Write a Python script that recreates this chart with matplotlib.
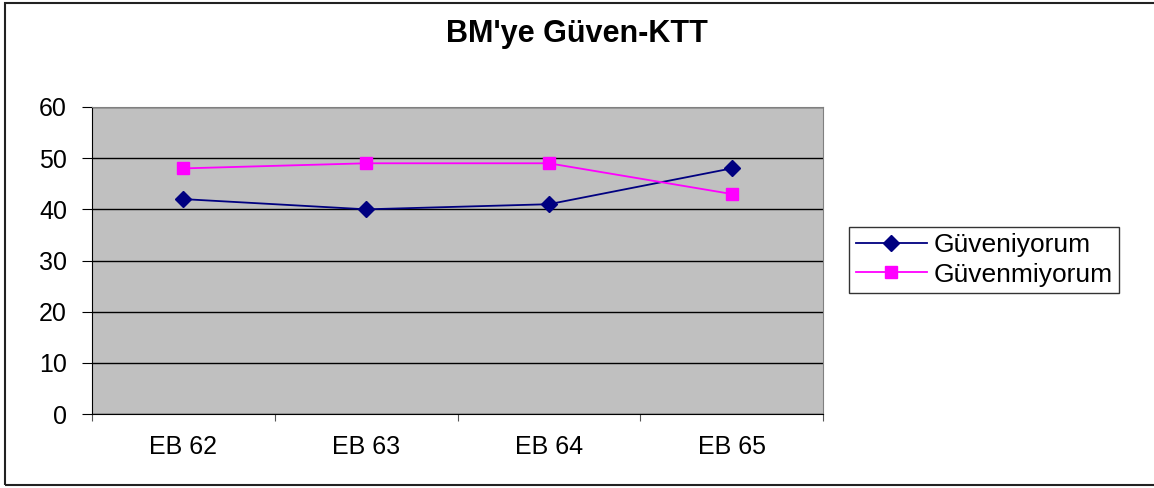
import matplotlib.pyplot as plt
from matplotlib.patches import Rectangle

# data
categories = ['EB 62', 'EB 63', 'EB 64', 'EB 65']
guveniyorum = [42, 40, 41, 48]
guvenmiyorum = [48, 49, 49, 43]
yticks = [0, 10, 20, 30, 40, 50, 60]

plt.rcParams['font.family'] = ['Liberation Sans', 'DejaVu Sans']

W, H = 1154, 488
fig = plt.figure(figsize=(W / 100, H / 100), dpi=100)
ax = fig.add_axes([92 / W, 1 - 414 / H, (823 - 92) / W, (414 - 107) / H])

# outer chart border
fig.patches.append(Rectangle((5 / W, 3 / H), 1.2, (485 - 3) / H,
                             transform=fig.transFigure, fill=False,
                             edgecolor='#222222', linewidth=1.5))

x = [i + 0.5 for i in range(len(categories))]
ax.set_facecolor('#C0C0C0')
ax.plot(x, guveniyorum, color='#000080', lw=1.3, marker='D', markersize=8,
        label='Güveniyorum', zorder=3)
ax.plot(x, guvenmiyorum, color='#FF00FF', lw=1.3, marker='s', markersize=8,
        label='Güvenmiyorum', zorder=3)

ax.set_xlim(0, len(categories))
ax.set_ylim(0, 60)
ax.set_yticks(yticks)
ax.yaxis.grid(True, color='#000000', lw=1)
ax.set_axisbelow(True)

ax.set_xticks(range(len(categories) + 1))
ax.set_xticklabels([])
ax.set_xticks(x, minor=True)
ax.set_xticklabels(categories, minor=True)
ax.tick_params(axis='x', which='major', length=5, color='#555555')
ax.tick_params(axis='x', which='minor', length=0, pad=15, labelsize=18)
ax.tick_params(axis='y', length=7, pad=11, labelsize=18)

for side in ['top', 'right']:
    ax.spines[side].set_color('#808080')
for side in ['left', 'bottom']:
    ax.spines[side].set_color('#000000')

fig.text(577 / W, 1 - 34 / H, "BM'ye Güven-KTT", ha='center', va='center',
         fontsize=22, fontweight='bold')

leg = fig.legend(loc='center left', bbox_to_anchor=(849 / W, 1 - 260 / H),
                 fontsize=19, frameon=True, fancybox=False, handlelength=2.7,
                 borderpad=0.25, labelspacing=0.2, handletextpad=0.25,
                 borderaxespad=0)
leg.get_frame().set_edgecolor('#000000')
leg.get_frame().set_linewidth(1.0)

fig.savefig('out.png', dpi=100)
